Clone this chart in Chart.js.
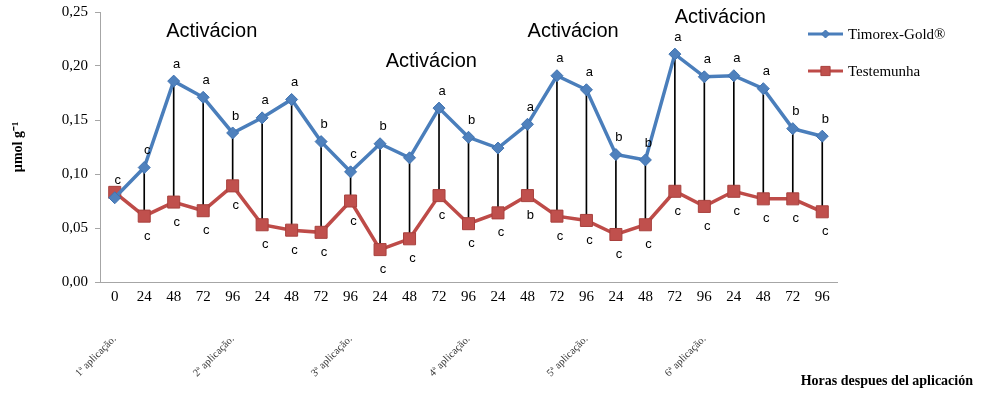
<!DOCTYPE html>
<html>
<head>
<meta charset="utf-8">
<script src="https://cdn.jsdelivr.net/npm/chart.js@4"></script>
<style>
  html, body { margin: 0; padding: 0; background: #fff; }
  canvas { display: block; }
</style>
</head>
<body>
<canvas id="chart" width="982" height="395"></canvas>
<script>
const hours = ['0', '24', '48', '72', '96', '24', '48', '72', '96', '24', '48', '72', '96',
  '24', '48', '72', '96', '24', '48', '72', '96', '24', '48', '72', '96']
const applications = ['1ª aplicação.', '', '', '', '2ª aplicação.', '', '', '', '3ª aplicação.', '', '', '',
  '4ª aplicação.', '', '', '', '5ª aplicação.', '', '', '', '6ª aplicação.', '', '', '', '']
const timorex = [0.078, 0.106, 0.186, 0.171, 0.138, 0.152, 0.169, 0.130, 0.102, 0.128, 0.115, 0.161, 0.134,
  0.124, 0.146, 0.191, 0.178, 0.118, 0.113, 0.211, 0.190, 0.191, 0.179, 0.142, 0.135]
const testemunha = [0.083, 0.061, 0.074, 0.066, 0.089, 0.053, 0.048, 0.046, 0.075, 0.030, 0.040, 0.080, 0.054,
  0.064, 0.080, 0.061, 0.057, 0.044, 0.053, 0.084, 0.070, 0.084, 0.077, 0.077, 0.065]
const timorexLetters = ['c', 'c', 'a', 'a', 'b', 'a', 'a', 'b', 'c', 'b', '', 'a', 'b',
  '', 'a', 'a', 'a', 'b', 'b', 'a', 'a', 'a', 'a', 'b', 'b']
const testemunhaLetters = ['', 'c', 'c', 'c', 'c', 'c', 'c', 'c', 'c', 'c', 'c', 'c', 'c',
  'c', 'b', 'c', 'c', 'c', 'c', 'c', 'c', 'c', 'c', 'c', 'c']
// "Activácion" notes: category position and level on the value axis
const activationAt = [3.29, 10.74, 15.55, 20.54]
const activationLevel = [0.232, 0.204, 0.232, 0.245]

const BLUE = '#4a7ebb'
const RED = '#be4b48'
const SERIF = '"Liberation Serif", "Times New Roman", serif'
const SANS = '"Liberation Sans", Arial, sans-serif'

const links = timorex.map((v, i) => [testemunha[i], v])

const extras = {
  id: 'extras',
  afterDatasetsDraw(chart) {
    const ctx = chart.ctx
    const x = chart.scales.x
    const y = chart.scales.y
    ctx.save()
    ctx.fillStyle = '#000'
    ctx.textAlign = 'center'
    ctx.textBaseline = 'middle'

    // significance letters
    ctx.font = '13px ' + SANS
    const blue = chart.getDatasetMeta(1).data
    const red = chart.getDatasetMeta(2).data
    blue.forEach((p, i) => {
      if (timorexLetters[i]) ctx.fillText(timorexLetters[i], p.x + 3, p.y - 17)
    })
    red.forEach((p, i) => {
      if (testemunhaLetters[i]) ctx.fillText(testemunhaLetters[i], p.x + 3, p.y + 20)
    })

    // activation notes
    ctx.font = '20px ' + SANS
    activationAt.forEach((a, i) => {
      ctx.fillText('Activácion', x.getPixelForValue(a), y.getPixelForValue(activationLevel[i]))
    })

    // legend
    const items = [
      { label: 'Timorex-Gold®', color: BLUE, ds: 1, r: 4 },
      { label: 'Testemunha', color: RED, ds: 2, r: 6.5 }
    ]
    items.forEach((it, i) => {
      const ly = 34 + i * 37
      ctx.strokeStyle = it.color
      ctx.lineWidth = 3
      ctx.beginPath()
      ctx.moveTo(808, ly)
      ctx.lineTo(843, ly)
      ctx.stroke()
      const opts = chart.getDatasetMeta(it.ds).data[0].options
      ctx.fillStyle = opts.backgroundColor
      ctx.strokeStyle = opts.borderColor
      ctx.lineWidth = 1
      Chart.helpers.drawPoint(ctx, {
        pointStyle: opts.pointStyle,
        radius: it.r,
        borderWidth: 1
      }, 825.5, ly)
      ctx.fillStyle = '#000'
      ctx.textAlign = 'left'
      ctx.font = '15px ' + SERIF
      ctx.fillText(it.label, 848, ly + 1)
    })

    // x axis title
    ctx.font = 'bold 14px ' + SERIF
    ctx.textAlign = 'right'
    ctx.fillText('Horas despues del aplicación', 973, 381)
    ctx.restore()
  }
}

new Chart(document.getElementById('chart'), {
  type: 'line',
  data: {
    labels: hours,
    datasets: [
      {
        type: 'bar',
        label: 'link',
        data: links,
        backgroundColor: '#000',
        borderWidth: 0,
        barThickness: 1,
        order: 3
      },
      {
        label: 'Timorex-Gold®',
        data: timorex,
        borderColor: BLUE,
        backgroundColor: '#4f81bd',
        borderWidth: 3.5,
        pointStyle: 'rectRot',
        pointRadius: 6,
        pointBorderColor: '#3f72b0',
        pointBorderWidth: 1,
        tension: 0,
        order: 1
      },
      {
        label: 'Testemunha',
        data: testemunha,
        borderColor: RED,
        backgroundColor: '#c0504d',
        borderWidth: 3.5,
        pointStyle: 'rect',
        pointRadius: 8.5,
        pointBorderColor: '#a8403d',
        pointBorderWidth: 1,
        tension: 0,
        order: 2
      }
    ]
  },
  options: {
    responsive: false,
    animation: false,
    layout: { padding: { top: 12, right: 145, left: 0, bottom: 0 } },
    plugins: {
      legend: { display: false },
      tooltip: { enabled: false }
    },
    scales: {
      x: {
        offset: true,
        grid: { display: false, drawTicks: false },
        border: { display: true, color: '#a6a6a6', width: 1 },
        ticks: {
          color: '#000',
          font: { family: SERIF, size: 15 },
          padding: 6,
          autoSkip: false,
          maxRotation: 0
        },
        afterFit: s => { s.height = 30 }
      },
      x2: {
        type: 'category',
        position: 'bottom',
        labels: applications,
        offset: true,
        grid: { display: false, drawTicks: false },
        border: { display: false },
        ticks: {
          color: '#333',
          font: { family: SERIF, size: 10.5 },
          padding: 21,
          autoSkip: false,
          minRotation: 45,
          maxRotation: 45
        },
        afterFit: s => { s.height = 83 }
      },
      y: {
        min: 0,
        max: 0.25,
        grid: { drawOnChartArea: false, drawTicks: true, tickLength: 5, color: '#a6a6a6' },
        border: { display: true, color: '#a6a6a6', width: 1 },
        ticks: {
          stepSize: 0.05,
          color: '#000',
          padding: 7,
          font: { family: SERIF, size: 15 },
          callback: v => v.toFixed(2).replace('.', ',')
        },
        title: {
          display: true,
          text: 'µmol g⁻¹',
          color: '#000',
          font: { family: SERIF, size: 14, weight: 'bold' },
          padding: { top: 10, bottom: 0 }
        },
        afterFit: s => {
          s.width = 100
          s.paddingTop = 0
          s.paddingBottom = 0
        }
      }
    }
  },
  plugins: [extras]
})
</script>
</body>
</html>
